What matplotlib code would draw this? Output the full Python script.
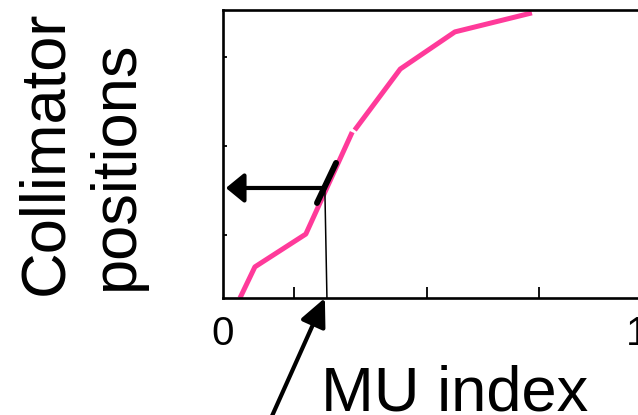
import matplotlib
matplotlib.use('Agg')
import matplotlib.pyplot as plt

plt.rcParams['font.family'] = ['Liberation Sans', 'DejaVu Sans']

# pink curve, drawn in two pieces with a small gap between them
curve_a_x = [0.041, 0.077, 0.200, 0.312]
curve_a_y = [0.000, 0.108, 0.222, 0.576]
curve_b_x = [0.318, 0.428, 0.560, 0.746]
curve_b_y = [0.583, 0.795, 0.924, 0.990]

# slope segment and the lookup lines
tangent_x = [0.227, 0.273]
tangent_y = [0.330, 0.469]
drop_x = [0.246, 0.251]
drop_y = [0.375, 0.000]
lookup_from = (0.246, 0.382)
lookup_to = (0.007, 0.382)
pointer_from = (0.112, -0.43)
pointer_to = (0.246, 0.0)

x_labels = ['0', '1']
x_label_pos = [0, 1]
x_minor = [0.171, 0.493, 0.763]
y_minor = [0.219, 0.528, 0.837]

pink = '#ff3a9a'

fig = plt.figure(figsize=(6.38, 4.15), dpi=100)
ax = fig.add_axes([223 / 638, 117 / 415, 0.714, 288 / 415])

ax.plot(curve_a_x, curve_a_y, color=pink, lw=3.6, solid_capstyle='butt')
ax.plot(curve_b_x, curve_b_y, color=pink, lw=3.6, solid_capstyle='butt')
ax.plot(tangent_x, tangent_y, color='black', lw=4.3, solid_capstyle='round')
ax.plot(drop_x, drop_y, color='black', lw=1.1)

ax.annotate('', xy=lookup_to, xytext=lookup_from,
            arrowprops=dict(arrowstyle='-|>,head_width=0.9,head_length=1.1',
                            lw=3, color='black', shrinkA=0, shrinkB=0))
ax.annotate('', xy=pointer_to, xytext=pointer_from, annotation_clip=False,
            arrowprops=dict(arrowstyle='-|>,head_width=0.8,head_length=1.7',
                            lw=3, color='black', shrinkA=0, shrinkB=0))

ax.set_xlim(0, 1.1)
ax.set_ylim(0, 1)
ax.set_xticks(x_label_pos)
ax.set_xticklabels(x_labels)
ax.set_xticks(x_minor, minor=True)
ax.set_yticks(y_minor)
ax.set_yticklabels([])
ax.tick_params(axis='x', which='major', length=0, pad=12, labelsize=29)
ax.tick_params(axis='x', which='minor', direction='in', length=8, width=1.3)
ax.tick_params(axis='y', direction='in', length=3, width=1.3)
for s in ax.spines.values():
    s.set_linewidth(1.9)

fig.text(455 / 638, 5 / 415, 'MU index', fontsize=45.5, ha='center', va='baseline')
fig.text(62 / 638, 120 / 415, 'Collimator', fontsize=45.5, rotation=90,
         rotation_mode='anchor', ha='left', va='baseline')
fig.text(133 / 638, 125 / 415, 'positions', fontsize=45.5, rotation=90,
         rotation_mode='anchor', ha='left', va='baseline')

fig.savefig('out.png', dpi=100)
